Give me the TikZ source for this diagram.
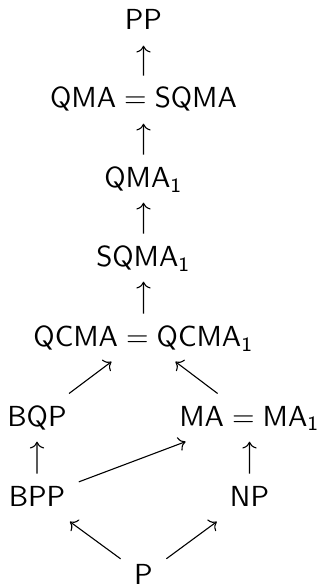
\documentclass[tikz,border=0pt]{standalone}
\usepackage{amsmath,amssymb}
\usetikzlibrary{cd}

\tikzset{
  cls/.style={anchor=base, scale=2.9, inner xsep=4.5pt, inner ysep=3.8pt, text height=7.2pt, text depth=1.4pt},
  inc/.style={->, >=cm to, line width=1.1pt},
}

\begin{document}
\begin{tikzpicture}[x=1pt, y=-1pt]

    \useasboundingbox (0,0) rectangle (320,585);

    %chaine du haut
    \node[cls] (pp) at (143.5,30) {$\mathsf{PP}$};
    \node[cls] (qma) at (143.5,108) {$\mathsf{QMA} = \mathsf{SQMA}$};
    \node[cls] (qmaone) at (143.5,187) {$\mathsf{QMA}_\mathsf{1}$};
    \node[cls] (sqmaone) at (143.5,266) {$\mathsf{SQMA}_\mathsf{1}$};
    \node[cls] (qcma) at (143.5,346) {$\mathsf{QCMA} = \mathsf{QCMA}_\mathsf{1}$};

    %bas
    \node[cls] (bqp) at (37,426) {$\mathsf{BQP}$};
    \node[cls] (ma) at (249.5,426) {$\mathsf{MA} = \mathsf{MA}_\mathsf{1}$};
    \node[cls] (bpp) at (37,506) {$\mathsf{BPP}$};
    \node[cls] (np) at (249.5,506) {$\mathsf{NP}$};
    \node[cls] (p) at (143.5,584) {$\mathsf{P}$};

    %inclusions
    \draw[inc] (qma) -- (pp);
    \draw[inc] (qmaone) -- (qma);
    \draw[inc] (sqmaone) -- (qmaone);
    \draw[inc] (qcma) -- (sqmaone);
    \draw[inc] (bqp) -- (qcma);
    \draw[inc] (ma) -- (qcma);
    \draw[inc] (bpp) -- (bqp);
    \draw[inc] (bpp) -- (ma);
    \draw[inc] (np) -- (ma);
    \draw[inc] (p) -- (bpp);
    \draw[inc] (p) -- (np);

\end{tikzpicture}
\end{document}
